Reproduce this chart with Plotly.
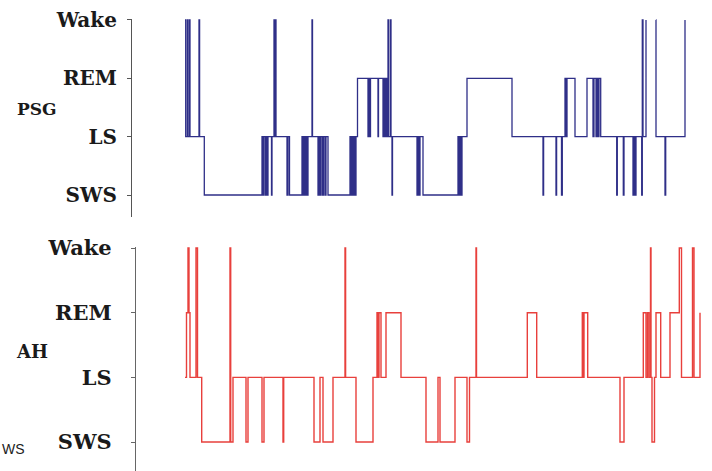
import plotly.graph_objects as go

# Sleep stage coding: 0 = SWS, 1 = LS, 2 = REM, 3 = Wake
stage_values = [0, 1, 2, 3]
stage_labels = ["SWS", "LS", "REM", "Wake"]

# PSG hypnogram: time of each stage change (minutes) and the stage entered
psg_time = [0, 0.7, 2.3, 3, 4.5, 5, 14, 14.6, 19.3, 77, 78, 79, 80.5, 81.5, 82.5, 83,
            86.5, 87, 89, 89.5, 90, 91, 102, 103, 104.5, 117, 118, 119, 120, 121, 122,
            123, 127, 127.5, 133, 134, 135, 136, 137.5, 138.5, 140, 141, 143, 165, 166,
            167, 168, 169, 170, 171, 172.5, 183, 184, 185, 185.5, 193, 193.5, 198, 199,
            200, 201, 202, 203, 203.7, 205.5, 206, 207, 207.5, 232, 233, 234, 235, 238,
            273, 274, 275, 276, 277, 282, 327, 358, 358.6, 371, 371.6, 376.5, 377.3, 380,
            381, 382, 390, 402, 408, 409, 411, 412, 413, 414, 415.7, 431.7, 432.3, 438.3,
            439, 448, 449, 450, 451, 456.7, 457.3, 458, 461, 461.6, 470.9, 471, 480,
            480.7, 500]
psg_stage = [3, 1, 3, 1, 3, 1, 3, 1, 0, 1, 0, 1, 0, 1, 0, 1,
             0, 1, 3, 1, 3, 1, 0, 1, 0, 1, 0, 1, 0, 1, 0,
             1, 3, 1, 0, 1, 0, 1, 0, 1, 0, 1, 0, 1, 0,
             1, 0, 1, 0, 1, 2, 1, 2, 1, 2, 1, 2, 1, 2,
             1, 2, 1, 3, 1, 3, 1, 0, 1, 0, 1, 0, 1, 0,
             1, 0, 1, 0, 1, 2, 1, 0, 1, 0, 1, 0, 1, 2,
             1, 2, 1, 2, 1, 2, 1, 2, 1, 2, 1, 0, 1, 0,
             1, 0, 1, 0, 1, 0, 3, 1, 3, None, 3, 1, 0,
             1, 3]

# AH hypnogram
ah_time = [0, 1.5, 3, 4, 5, 11, 12.5, 16.7, 45, 45.7, 48, 61, 63, 77, 79, 98, 98.7,
           129, 135, 138, 148, 160, 160.6, 171, 188, 192, 193, 194, 196, 201, 216, 241,
           253, 255, 270, 282, 284.5, 291, 291.5, 342.3, 351.7, 397.3, 398.3, 399,
           402.7, 435, 439, 458.3, 461, 462.5, 464, 465.5, 466, 467, 469.5, 471, 475.7,
           485, 494.3, 496.5, 507.5, 509, 515]
ah_stage = [1, 2, 3, 2, 1, 3, 1, 0, 3, 0, 1, 0, 1, 0, 1, 0, 1,
            0, 1, 0, 1, 3, 1, 0, 1, 2, 1, 2, 1, 2, 1, 0,
            1, 0, 1, 0, 1, 3, 1, 2, 1, 2, 1, 2,
            1, 0, 1, 2, 1, 2, 1, 3, 1, 0, 1, 2, 1,
            2, 3, 1, 3, 1, 2]

W, H = 712, 471


def px_x(p):
    return p / W


def px_y(p):
    return 1 - p / H


fig = go.Figure()
fig.add_trace(go.Scatter(x=psg_time, y=psg_stage, mode="lines",
                         line=dict(shape="hv", color="#2f2f88", width=1.3),
                         connectgaps=False, xaxis="x", yaxis="y", showlegend=False))
fig.add_trace(go.Scatter(x=ah_time, y=ah_stage, mode="lines",
                         line=dict(shape="hv", color="#e8403c", width=1.4),
                         xaxis="x2", yaxis="y2", showlegend=False))

serif = "DejaVu Serif, Liberation Serif, serif"

fig.update_layout(
    width=W, height=H,
    margin=dict(l=0, r=0, t=0, b=0),
    paper_bgcolor="white", plot_bgcolor="white",
    showlegend=False,
    xaxis=dict(domain=[px_x(132), 1], range=[-53, 527], visible=False),
    yaxis=dict(domain=[px_y(217), px_y(19)], range=[-0.377, 3.017],
               tickvals=stage_values, ticktext=stage_labels,
               showline=True, linecolor="#555555", linewidth=1.2,
               ticks="outside", ticklen=4, tickcolor="#555555", tickwidth=1,
               ticklabelstandoff=6,
               tickfont=dict(family=serif, size=20, color="#1a1a1a", weight="bold"),
               showgrid=False, zeroline=False, automargin=False, fixedrange=True),
    xaxis2=dict(domain=[px_x(136), 1], range=[-49, 527], visible=False, anchor="y2"),
    yaxis2=dict(domain=[0, px_y(247)], range=[-0.448, 3.0155], anchor="x2",
                tickvals=stage_values, ticktext=stage_labels,
                showline=True, linecolor="#666666", linewidth=1.2,
                ticks="outside", ticklen=4, tickcolor="#666666", tickwidth=1,
                ticklabelstandoff=15,
                tickfont=dict(family=serif, size=21, color="#1a1a1a", weight="bold"),
                showgrid=False, zeroline=False, automargin=False, fixedrange=True),
    annotations=[
        dict(text="PSG", x=px_x(37), y=px_y(109), xref="paper", yref="paper",
             xanchor="center", yanchor="middle", showarrow=False,
             font=dict(family=serif, size=17, color="#1a1a1a", weight="bold")),
        dict(text="AH", x=px_x(32), y=px_y(351), xref="paper", yref="paper",
             xanchor="center", yanchor="middle", showarrow=False,
             font=dict(family=serif, size=18, color="#1a1a1a", weight="bold")),
        dict(text="WS", x=0, y=px_y(449), xref="paper", yref="paper",
             xanchor="left", yanchor="middle", showarrow=False,
             font=dict(family="Liberation Sans, Arial, sans-serif", size=14, color="#222222")),
    ],
)

fig.write_html("out.html", config={"displayModeBar": False},
               post_script="document.body.style.margin='0';")
